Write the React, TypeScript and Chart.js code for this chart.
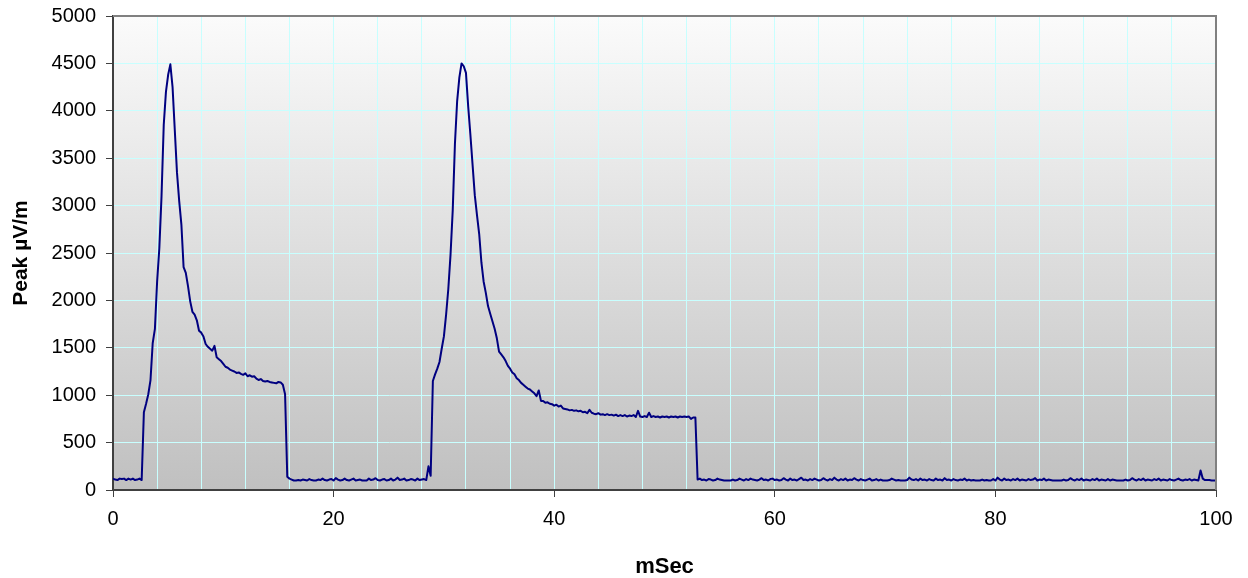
import React, { useEffect, useRef } from 'react';
import { Chart, registerables } from 'chart.js';

Chart.register(...registerables);

// Sample interval of the recording (ms)
const SAMPLE_STEP_MS = 0.2;

// Segment start times (ms)
const BASELINE_1_START = 0;
const PULSE_1_START = 2.8;
const BASELINE_2_START = 15.8;
const PULSE_2_START = 28.6;
const BASELINE_3_START = 53.0;

// Peak µV/m readings, one per sample
const BASELINE_1 = [120, 110, 105, 120, 115, 120, 105, 120, 110, 120, 105, 110, 120, 105];

const PULSE_1 = [
  820, 910, 1010, 1160, 1550, 1700,
  2200, 2550, 3100, 3850, 4200,
  4380, 4490, 4250, 3800, 3350,
  3050, 2800, 2350, 2290, 2150,
  1990, 1880, 1850, 1790, 1680,
  1660, 1620, 1540, 1510, 1490,
  1470, 1520, 1400, 1380, 1360,
  1330, 1300, 1290, 1270, 1260,
  1250, 1235, 1240, 1225, 1215,
  1230, 1200, 1210, 1195, 1200,
  1175, 1160, 1170, 1150, 1145,
  1150, 1140, 1135, 1130, 1125,
  1140, 1135, 1110, 1010,
];

const BASELINE_2 = [
  140, 120, 110, 100, 100, 105, 100, 110, 105, 100,
  115, 105, 100, 100, 110, 105, 120, 105, 100, 110,
  115, 100, 125, 110, 100, 105, 120, 105, 100, 110,
  120, 100, 105, 110, 100, 100, 100, 120, 105, 110,
  125, 105, 100, 110, 115, 100, 105, 120, 100, 110,
  130, 105, 110, 120, 100, 105, 115, 110, 100, 120,
  105, 110, 115, 105,
];

const PULSE_2 = [
  250, 150,
  1150, 1220, 1280, 1350, 1490,
  1620, 1850, 2120, 2480, 2950,
  3650, 4100, 4350, 4500, 4470,
  4400, 4050, 3750, 3430, 3110,
  2900, 2700, 2400, 2200, 2080,
  1940, 1860, 1780, 1700, 1600,
  1460, 1430, 1400, 1360, 1310,
  1280, 1240, 1220, 1180, 1160,
  1130, 1110, 1090, 1070, 1060,
  1040, 1020, 990, 1050, 940,
  940, 920, 925, 910, 905,
  890, 900, 880, 890, 860,
  855, 850, 840, 845, 835,
  840, 830, 835, 820, 825,
  810, 845, 815, 805, 800,
  810, 795, 800, 790, 800,
  790, 795, 785, 795, 780,
  790, 780, 790, 775, 785,
  780, 790, 770, 835, 775,
  770, 780, 770, 815, 770,
  780, 770, 775, 765, 775,
  770, 775, 765, 775, 770,
  775, 765, 775, 770, 775,
  770, 775, 750, 765, 765,
];

const BASELINE_3 = [
  110, 120, 105, 110, 100, 115, 110, 100, 105, 120,
  110, 105, 100, 100, 100, 100, 110, 100, 105, 120,
  110, 100, 115, 105, 120, 110, 105, 100, 110, 125,
  105, 110, 100, 115, 120, 105, 110, 100, 105, 125,
  110, 100, 120, 105, 110, 100, 115, 130, 105, 110,
  100, 115, 105, 120, 110, 100, 105, 125, 110, 100,
  115, 105, 130, 110, 100, 115, 105, 120, 100, 110,
  105, 125, 110, 100, 115, 105, 100, 110, 120, 100,
  105, 115, 100, 110, 100, 100, 100, 105, 120, 110,
  100, 105, 100, 100, 100, 105, 130, 110, 105, 115,
  100, 120, 105, 110, 100, 115, 105, 100, 120, 105,
  110, 100, 125, 105, 110, 100, 115, 105, 100, 110,
  105, 120, 100, 110, 100, 105, 100, 100, 100, 110,
  100, 105, 100, 100, 115, 100, 130, 110, 100, 120,
  105, 110, 100, 115, 105, 120, 100, 110, 105, 100,
  115, 105, 110, 125, 100, 110, 105, 120, 100, 110,
  105, 100, 100, 100, 100, 100, 110, 100, 105, 125,
  110, 100, 115, 105, 120, 100, 110, 105, 100, 115,
  105, 120, 100, 110, 105, 100, 115, 100, 110, 105,
  100, 100, 100, 100, 110, 100, 105, 125, 110, 100,
  115, 105, 120, 100, 110, 105, 100, 115, 105, 120,
  100, 110, 105, 100, 115, 105, 100, 110, 120, 105,
  100, 110, 105, 115, 100, 110, 105, 100, 205, 120,
  105, 105, 105, 100, 100, 100,
];

const SEGMENTS = [
  { start: BASELINE_1_START, values: BASELINE_1 },
  { start: PULSE_1_START, values: PULSE_1 },
  { start: BASELINE_2_START, values: BASELINE_2 },
  { start: PULSE_2_START, values: PULSE_2 },
  { start: BASELINE_3_START, values: BASELINE_3 },
];

const X_TITLE = 'mSec';
const Y_TITLE = 'Peak µV/m';
const X_MIN = 0, X_MAX = 100, X_GRID_STEP = 4, X_LABEL_STEP = 20;
const Y_MIN = 0, Y_MAX = 5000, Y_STEP = 500;

const FONT = "'Liberation Sans', Arial, Helvetica, sans-serif";
const LINE_COLOR = '#000080';
const GRID_COLOR = '#c8ffff';
const AXIS_COLOR = '#404040';
const FRAME_COLOR = '#808080';
const CLEAR = 'rgba(0,0,0,0)';

const plotDecor = {
  id: 'plotDecor',
  beforeDraw(chart: any) {
    const { ctx, chartArea: a } = chart;
    const g = ctx.createLinearGradient(0, a.top, 0, a.bottom);
    g.addColorStop(0, '#fbfbfb');
    g.addColorStop(1, '#c0c0c0');
    ctx.save();
    ctx.fillStyle = g;
    ctx.fillRect(a.left, a.top, a.right - a.left, a.bottom - a.top);
    ctx.restore();
  },
  afterDraw(chart: any) {
    const { ctx, chartArea: a } = chart;
    ctx.save();
    ctx.strokeStyle = FRAME_COLOR;
    ctx.lineWidth = 2;
    ctx.beginPath();
    ctx.moveTo(a.left, a.top);
    ctx.lineTo(a.right, a.top);
    ctx.lineTo(a.right, a.bottom);
    ctx.stroke();
    ctx.restore();
  },
};

export default function App() {
  const ref = useRef<HTMLCanvasElement | null>(null);

  useEffect(() => {
    if (!ref.current) return;
    const points: { x: number; y: number }[] = [];
    SEGMENTS.forEach((seg) => {
      seg.values.forEach((v, i) => {
        points.push({ x: Math.round((seg.start + i * SAMPLE_STEP_MS) * 100) / 100, y: v });
      });
    });

    const chart = new Chart(ref.current, {
      type: 'line',
      data: {
        datasets: [
          {
            data: points,
            borderColor: LINE_COLOR,
            borderWidth: 2,
            pointRadius: 0,
            tension: 0,
            fill: false,
            borderJoinStyle: 'round',
          },
        ],
      },
      options: {
        responsive: false,
        animation: false,
        events: [],
        layout: { padding: { top: 16, right: 32, left: 0, bottom: 0 } },
        plugins: { legend: { display: false }, tooltip: { enabled: false } },
        scales: {
          x: {
            type: 'linear',
            min: X_MIN,
            max: X_MAX,
            afterFit: (s: any) => { s.height = 88; },
            ticks: {
              stepSize: X_GRID_STEP,
              autoSkip: false,
              maxRotation: 0,
              color: '#000',
              padding: 10,
              font: { family: FONT, size: 20 },
              callback: (v: any) => (Number(v) % X_LABEL_STEP === 0 ? String(v) : ''),
            },
            grid: {
              color: (c: any) => (c.tick && (c.tick.value === X_MIN || c.tick.value === X_MAX) ? CLEAR : GRID_COLOR),
              lineWidth: 1,
              tickLength: 7,
              tickColor: (c: any) => (c.tick && c.tick.value % X_LABEL_STEP === 0 ? AXIS_COLOR : CLEAR),
            },
            border: { display: true, color: AXIS_COLOR, width: 2 },
            title: {
              display: true,
              text: X_TITLE,
              color: '#000',
              font: { family: FONT, size: 22, weight: 'bold' },
              padding: { top: 0, bottom: -2 },
            },
          },
          y: {
            type: 'linear',
            min: Y_MIN,
            max: Y_MAX,
            afterFit: (s: any) => { s.width = 113; s.paddingTop = 0; s.paddingBottom = 0; },
            ticks: {
              stepSize: Y_STEP,
              color: '#000',
              padding: 10,
              font: { family: FONT, size: 20 },
              callback: (v: any) => String(v),
            },
            grid: {
              color: (c: any) => (c.tick && (c.tick.value === Y_MIN || c.tick.value === Y_MAX) ? CLEAR : GRID_COLOR),
              lineWidth: 1,
              tickLength: 7,
              tickColor: AXIS_COLOR,
            },
            border: { display: true, color: AXIS_COLOR, width: 2 },
            title: {
              display: true,
              text: Y_TITLE,
              color: '#000',
              font: { family: FONT, size: 21, weight: 'bold' },
              padding: { top: 9, bottom: 0 },
            },
          },
        },
      },
      plugins: [plotDecor],
    } as any);

    return () => chart.destroy();
  }, []);

  return (
    <div style={{ position: 'fixed', left: 0, top: 0, width: 1248, height: 578, background: '#fff' }}>
      <canvas ref={ref} width={1248} height={578} style={{ display: 'block', width: 1248, height: 578 }} />
    </div>
  );
}
